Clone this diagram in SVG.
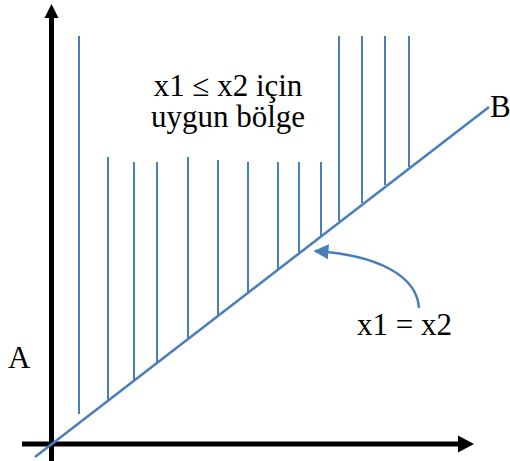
<svg xmlns="http://www.w3.org/2000/svg" width="510" height="461" viewBox="0 0 510 461">
<style>
text{font-family:'Liberation Serif','Times New Roman',serif;font-size:31px;fill:#000}
.hatch{stroke:#4a7ebb;stroke-width:2;fill:none}
.axis{stroke:#000;stroke-width:5;fill:none}
.blue{stroke:#4a7ebb;stroke-width:2.5;fill:none}
</style>
<defs>
<marker id="ah" viewBox="0 0 10 10" refX="9" refY="5" markerWidth="15" markerHeight="15" markerUnits="userSpaceOnUse" orient="auto">
<path d="M0,0 L10,5 L0,10 z" fill="#4a7ebb"/>
</marker>
</defs>
<rect width="510" height="461" fill="#fff"/>
<g id="axes">
<line class="axis" x1="51.5" y1="461" x2="51.5" y2="16"/>
<path d="M51.5,4 L44.5,18 L58.5,18 z" fill="#000"/>
<line class="axis" x1="22" y1="444" x2="460" y2="444"/>
<path d="M474,444 L458,435.5 L458,452.5 z" fill="#000"/>
</g>
<g id="hatching">
<line class="hatch" x1="79" y1="36" x2="79" y2="414"/>
<line class="hatch" x1="108" y1="157" x2="108" y2="400"/>
<line class="hatch" x1="134" y1="162" x2="134" y2="380"/>
<line class="hatch" x1="157" y1="162" x2="157" y2="362"/>
<line class="hatch" x1="188" y1="157" x2="188" y2="338"/>
<line class="hatch" x1="218" y1="160" x2="218" y2="315"/>
<line class="hatch" x1="248" y1="162" x2="248" y2="292"/>
<line class="hatch" x1="278" y1="162" x2="278" y2="269"/>
<line class="hatch" x1="299" y1="162" x2="299" y2="253"/>
<line class="hatch" x1="321" y1="162" x2="321" y2="236"/>
<line class="hatch" x1="339" y1="36" x2="339" y2="221"/>
<line class="hatch" x1="362" y1="36" x2="362" y2="203"/>
<line class="hatch" x1="385" y1="36" x2="385" y2="185"/>
<line class="hatch" x1="409" y1="36" x2="409" y2="167"/>
</g>
<g id="diagonal">
<line class="blue" x1="35" y1="457" x2="489" y2="107"/>
</g>
<g id="connectors">
<path class="blue" d="M419,308 C417,276 378,255 315,251" marker-end="url(#ah)"/>
</g>
<g id="label-region">
<text x="228" y="96" text-anchor="middle">x1 ≤ x2 için</text>
<text x="228" y="127" text-anchor="middle">uygun bölge</text>
</g>
<g id="label-A"><text x="8" y="368">A</text></g>
<g id="label-B"><text x="490" y="117">B</text></g>
<g id="label-eq"><text x="357" y="335">x1 = x2</text></g>
</svg>
